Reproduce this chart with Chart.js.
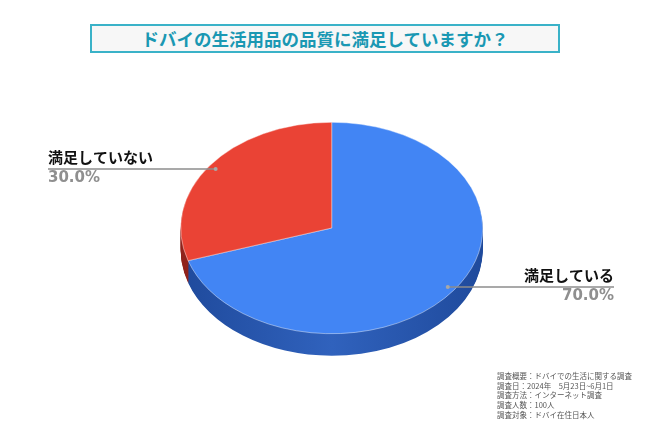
<!DOCTYPE html>
<html>
<head>
<meta charset="utf-8">
<script src="https://cdn.jsdelivr.net/npm/chart.js@4/dist/chart.umd.min.js"></script>
<style>
  body { margin: 0; background: #fff; }
  .wrap { position: relative; width: 650px; height: 434px; }
  .title {
    position: absolute; left: 90px; top: 24px; width: 470px; height: 29px;
    box-sizing: border-box; border: 2px solid #3ab2c8; background: #f7f7f7;
    color: #1a98b3; font: bold 17.5px 'Noto Sans CJK JP', sans-serif;
    text-align: center; line-height: 25px;
  }
  .notes {
    position: absolute; left: 497px; top: 371px;
    color: #555; font: 7.5px 'Noto Sans CJK JP', sans-serif; line-height: 9.7px;
    white-space: nowrap;
  }
  canvas { position: absolute; left: 0; top: 0; }
</style>
</head>
<body>
<div class="wrap">
  <canvas id="pie" width="650" height="434"></canvas>
  <div class="title">ドバイの生活用品の品質に満足していますか？</div>
  <div class="notes" id="notes"></div>
</div>
<script>
const labels = ['満足している', '満足していない']
const values = [70, 30]
const colors = ['#4285f4', '#ea4335']
const sideColors = [['#1f4a9c', '#3062bd'], ['#8f221b', '#b3302a']]
const notes = [
  '調査概要：ドバイでの生活に関する調査',
  '調査日：2024年　5月23日~6月1日',
  '調査方法：インターネット調査',
  '調査人数：100人',
  '調査対象：ドバイ在住日本人'
]

document.getElementById('notes').innerHTML = notes.join('<br>')

// tilt of the pie
const squash = 0.7
const depth = 22
const centerY = 228

const pie3d = {
  id: 'pie3d',
  beforeDatasetsDraw(chart) {
    let ctx = chart.ctx
    let arcs = chart.getDatasetMeta(0).data
    let cx = arcs[0].x, cy = arcs[0].y
    // side wall
    for (let d = depth; d > 0; d--) {
      arcs.forEach(function(arc, i) {
        ctx.save()
        ctx.translate(cx, centerY + d)
        ctx.scale(1, squash)
        let r = arc.outerRadius
        let g = ctx.createLinearGradient(-r, 0, r, 0)
        g.addColorStop(0, sideColors[i][0])
        g.addColorStop(0.5, sideColors[i][1])
        g.addColorStop(1, sideColors[i][0])
        ctx.fillStyle = g
        ctx.beginPath()
        ctx.moveTo(0, 0)
        ctx.arc(0, 0, r, arc.startAngle, arc.endAngle)
        ctx.closePath()
        ctx.fill()
        ctx.restore()
      })
    }
    ctx.save()
    ctx.translate(cx, centerY)
    ctx.scale(1, squash)
    ctx.translate(-cx, -cy)
  },
  afterDatasetsDraw(chart) {
    let ctx = chart.ctx
    ctx.restore()
    let arcs = chart.getDatasetMeta(0).data
    let total = values.reduce((a, b) => a + b, 0)
    arcs.forEach(function(arc, i) {
      let mid = (arc.startAngle + arc.endAngle) / 2
      let px = arc.x + Math.cos(mid) * arc.outerRadius * 0.95
      let py = centerY + Math.sin(mid) * arc.outerRadius * 0.95 * squash
      let left = px < arc.x
      let endX = left ? 48 : 614
      ctx.save()
      ctx.strokeStyle = '#8c8c8c'
      ctx.lineWidth = 1.5
      ctx.beginPath()
      ctx.moveTo(px, py)
      ctx.lineTo(endX, py)
      ctx.stroke()
      ctx.fillStyle = '#a8a8a8'
      ctx.beginPath()
      ctx.arc(px, py, 2, 0, Math.PI * 2)
      ctx.fill()
      ctx.textAlign = left ? 'left' : 'right'
      ctx.textBaseline = 'alphabetic'
      ctx.fillStyle = '#111'
      ctx.font = "bold 15px 'Noto Sans CJK JP'"
      ctx.fillText(labels[i], endX, py - 6)
      ctx.fillStyle = '#8f8f8f'
      ctx.font = "bold 15px 'DejaVu Sans'"
      ctx.fillText((values[i] / total * 100).toFixed(1) + '%', endX, py + 13.4)
      ctx.restore()
    })
  }
}

new Chart(document.getElementById('pie'), {
  type: 'pie',
  data: {
    labels: labels,
    datasets: [{
      data: values,
      backgroundColor: colors,
      borderColor: 'rgba(255,255,255,0.5)',
      borderWidth: 1
    }]
  },
  options: {
    responsive: false,
    animation: false,
    layout: { padding: { left: 131.7, right: 118.3, top: 70, bottom: 61 } },
    plugins: {
      legend: { display: false },
      tooltip: { enabled: false }
    }
  },
  plugins: [pie3d]
})
</script>
</body>
</html>
